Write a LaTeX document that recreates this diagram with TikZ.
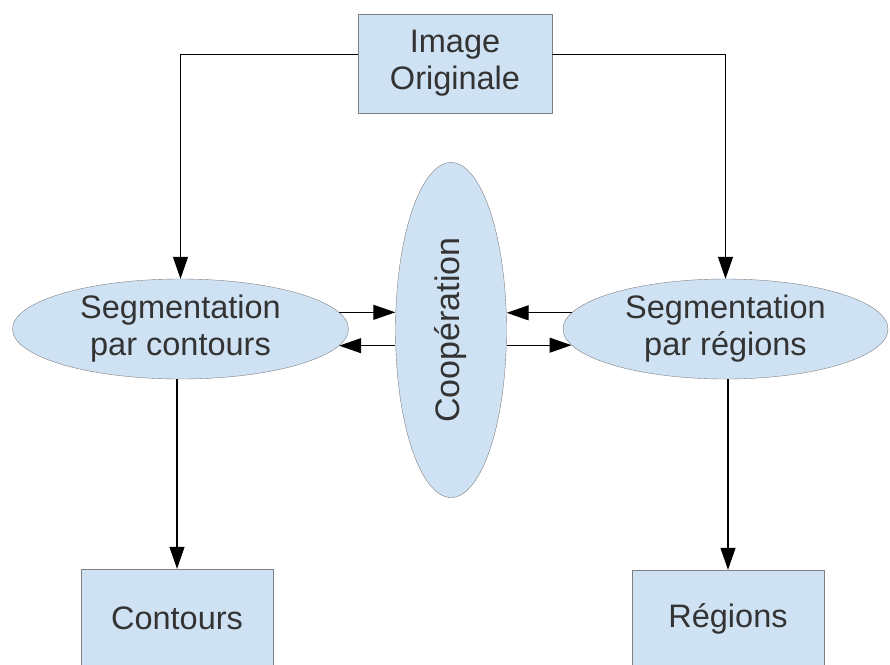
\documentclass[tikz,border=0pt]{standalone}
\usepackage{fontspec}
\setmainfont{Liberation Sans}
\usepackage{graphicx}
\usetikzlibrary{shapes.geometric, arrows.meta}

\definecolor{boxblue}{RGB}{207,226,243}
\definecolor{boxline}{RGB}{128,128,128}
\definecolor{txt}{RGB}{51,51,51}

\begin{document}
\begin{tikzpicture}[x=1pt, y=-1pt,
    b/.style={rectangle, draw=boxline, fill=boxblue, text=txt, align=center,
        font=\fontsize{32.5}{37}\selectfont, inner sep=0pt},
    el/.style={ellipse, draw=boxline, fill=boxblue, text=txt, align=center,
        font=\fontsize{32.5}{37}\selectfont, inner sep=0pt},
    arr/.style={line width=1.1pt, -{Triangle[length=22pt, width=15pt]}}
]

    \useasboundingbox (0,0) rectangle (890,664);
    \clip (0,0) rectangle (890,664);

    % boxes
    \node[b, minimum width=194pt, minimum height=99pt] (img) at (455,63.5) {Image\\Originale};
    \node[b, minimum width=192pt, minimum height=98pt] (cont) at (177,618) {Contours};
    \node[b, minimum width=192pt, minimum height=98pt] (reg) at (728,619) {Régions};

    % ellipses
    \node[el, minimum width=336pt, minimum height=100pt] (segc) at (180.5,329) {Segmentation\\par contours};
    \node[el, minimum width=325pt, minimum height=100pt] (segr) at (725.5,329) {Segmentation\\par régions};
    \node[el, minimum width=111pt, minimum height=335pt, font=\fontsize{34}{40}\selectfont]
        (coop) at (451,330) {\rotatebox{90}{Coopération}};

    % top arrows
    \draw[arr] ([yshift=9pt]img.west) -| (segc.north);
    \draw[arr] ([yshift=9pt]img.east) -| (segr.north);

    % arrows to and from the middle
    \draw[arr] (segc.6) -- (segc.6 -| coop.west);
    \draw[arr] (coop.west |- segc.-6) -- (segc.-6);
    \draw[arr] (segr.174) -- (segr.174 -| coop.east);
    \draw[arr] (coop.east |- segr.186) -- (segr.186);

    % bottom arrows
    \draw[arr] (segc.south -| cont) -- (cont);
    \draw[arr] (segr.south -| reg) -- (reg);

\end{tikzpicture}
\end{document}
